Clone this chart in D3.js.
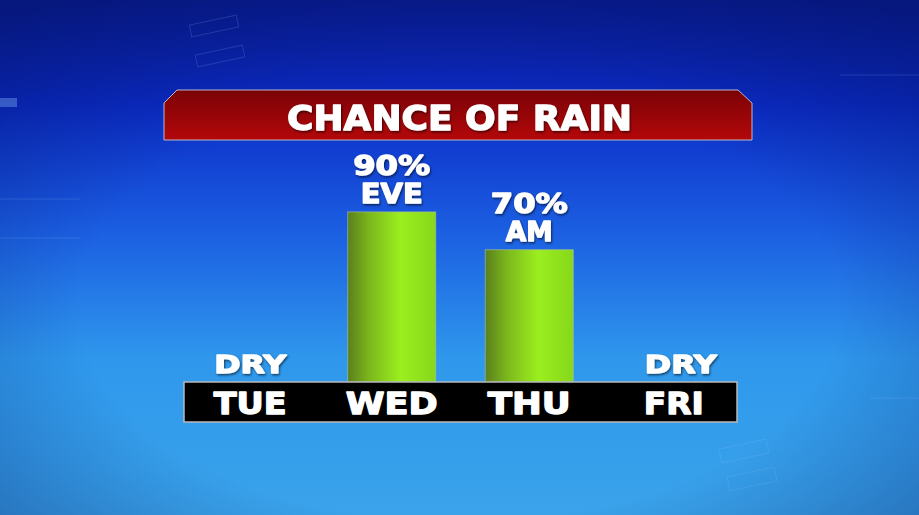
<!DOCTYPE html>
<html>
<head>
<meta charset="utf-8">
<script src="https://cdn.jsdelivr.net/npm/d3@7"></script>
<style>
  html, body { margin: 0; padding: 0; background: #0b2fb8; overflow: hidden; }
  text { font-family: "DejaVu Sans", sans-serif; font-weight: bold; fill: #fff;
         stroke: #fff; stroke-width: 1.3; stroke-linejoin: round; }
</style>
</head>
<body>
<div id="container"></div>
<script>
const width = 919;
const height = 515;

// data
const days = ["TUE", "WED", "THU", "FRI"];
const chance = [0, 90, 70, 0];
const noteTop = ["DRY", "90%", "70%", "DRY"];
const noteBottom = ["", "EVE", "AM", ""];
const title = "CHANCE OF RAIN";

const svg = d3.create("svg")
    .attr("width", width)
    .attr("height", height);

const defs = svg.append("defs");

// background gradient, dark navy on top to light blue below
const bg = defs.append("linearGradient").attr("id", "bg")
    .attr("x1", 0).attr("y1", 0).attr("x2", 0).attr("y2", 1);
bg.append("stop").attr("offset", "0").attr("stop-color", "#0a1c93");
bg.append("stop").attr("offset", "0.2").attr("stop-color", "#0b2bc6");
bg.append("stop").attr("offset", "0.45").attr("stop-color", "#1b5fe2");
bg.append("stop").attr("offset", "0.7").attr("stop-color", "#2f98ec");
bg.append("stop").attr("offset", "1").attr("stop-color", "#3aa3ea");

const vign = defs.append("radialGradient").attr("id", "vign")
    .attr("cx", 0.5).attr("cy", 0.6).attr("r", 0.75);
vign.append("stop").attr("offset", "0.55").attr("stop-color", "#001060").attr("stop-opacity", 0);
vign.append("stop").attr("offset", "1").attr("stop-color", "#001060").attr("stop-opacity", 0.45);

const banner = defs.append("linearGradient").attr("id", "banner")
    .attr("x1", 0).attr("y1", 0).attr("x2", 0).attr("y2", 1);
banner.append("stop").attr("offset", "0").attr("stop-color", "#7a0206");
banner.append("stop").attr("offset", "1").attr("stop-color", "#b4080a");

const green = defs.append("linearGradient").attr("id", "green")
    .attr("x1", 0).attr("y1", 0).attr("x2", 1).attr("y2", 0);
green.append("stop").attr("offset", "0").attr("stop-color", "#5a7f1e");
green.append("stop").attr("offset", "0.25").attr("stop-color", "#7cb81c");
green.append("stop").attr("offset", "0.6").attr("stop-color", "#9bee1e");
green.append("stop").attr("offset", "1").attr("stop-color", "#86d81a");

const shadow = defs.append("filter").attr("id", "shadow")
    .attr("x", -0.1).attr("y", -0.2).attr("width", 1.2).attr("height", 1.5);
shadow.append("feDropShadow")
    .attr("dx", 1).attr("dy", 1.5).attr("stdDeviation", 1)
    .attr("flood-color", "#000").attr("flood-opacity", 0.6);

svg.append("rect").attr("width", width).attr("height", height).attr("fill", "url(#bg)");
svg.append("rect").attr("width", width).attr("height", height).attr("fill", "url(#vign)");

// faint decoration lines in the background
const deco = svg.append("g")
    .attr("fill", "none")
    .attr("stroke", "#8fc4ff")
    .attr("stroke-opacity", 0.18);
deco.append("line").attr("x1", 0).attr("y1", 199).attr("x2", 80).attr("y2", 199);
deco.append("line").attr("x1", 0).attr("y1", 238).attr("x2", 80).attr("y2", 238);
deco.append("line").attr("x1", 870).attr("y1", 398).attr("x2", 919).attr("y2", 398);
deco.append("line").attr("x1", 840).attr("y1", 75).attr("x2", 919).attr("y2", 75);
deco.append("rect").attr("x", 0).attr("y", 98).attr("width", 17).attr("height", 9)
    .attr("fill", "#8fc4ff").attr("fill-opacity", 0.35).attr("stroke", "none");
deco.append("rect").attr("x", 720).attr("y", 444).attr("width", 48).attr("height", 14)
    .attr("transform", "rotate(-12 744 451)");
deco.append("rect").attr("x", 728).attr("y", 472).attr("width", 48).attr("height", 14)
    .attr("transform", "rotate(-12 752 479)");
deco.append("rect").attr("x", 190).attr("y", 20).attr("width", 48).attr("height", 12)
    .attr("transform", "rotate(-12 214 26)");
deco.append("rect").attr("x", 196).attr("y", 50).attr("width", 48).attr("height", 12)
    .attr("transform", "rotate(-12 220 56)");

// scales
const x = d3.scaleBand()
    .domain(days)
    .range([184, 737])
    .paddingInner(0.36)
    .paddingOuter(0.19);

const y = d3.scaleLinear()
    .domain([0, 100])
    .range([382, 193]);

// title banner
svg.append("path")
    .attr("d", "M164,103 L177,90 L738,90 L752,103 L752,140 L164,140 Z")
    .attr("fill", "url(#banner)")
    .attr("stroke", "#b8b8c8")
    .attr("stroke-width", 1);

svg.append("text")
    .attr("x", 459.5)
    .attr("y", 130)
    .attr("text-anchor", "middle")
    .attr("font-size", 34)
    .attr("textLength", 345)
    .attr("lengthAdjust", "spacingAndGlyphs")
    .attr("filter", "url(#shadow)")
    .text(title);

// bars
const rows = days.map((d, i) => ({ day: d, value: chance[i], top: noteTop[i], bottom: noteBottom[i] }));

svg.append("g")
    .selectAll("rect")
    .data(rows.filter(d => d.value > 0))
    .join("rect")
    .attr("x", d => x(d.day))
    .attr("y", d => y(d.value))
    .attr("width", x.bandwidth())
    .attr("height", d => y(0) - y(d.value))
    .attr("fill", "url(#green)")
    .attr("stroke", "#b0c0a0")
    .attr("stroke-opacity", 0.6)
    .attr("stroke-width", 1);

// labels above the bars
const notes = svg.append("g")
    .attr("text-anchor", "middle")
    .attr("filter", "url(#shadow)");

notes.selectAll("text.top")
    .data(rows)
    .join("text")
    .attr("class", "top")
    .attr("x", d => x(d.day) + x.bandwidth() / 2 + (d.value > 0 ? 0 : (d.day === "FRI" ? 14 : -4)))
    .attr("y", d => d.value > 0 ? y(d.value) - 37 : 373)
    .attr("font-size", d => d.value > 0 ? 27 : 25)
    .attr("textLength", d => d.value > 0 ? 77 : 72)
    .attr("lengthAdjust", "spacingAndGlyphs")
    .text(d => d.top);

const bottomWidths = { EVE: 62, AM: 47 };

notes.selectAll("text.bottom")
    .data(rows.filter(d => d.bottom))
    .join("text")
    .attr("class", "bottom")
    .attr("x", d => x(d.day) + x.bandwidth() / 2)
    .attr("y", d => y(d.value) - 9)
    .attr("font-size", 27)
    .attr("textLength", d => bottomWidths[d.bottom])
    .attr("lengthAdjust", "spacingAndGlyphs")
    .text(d => d.bottom);

// day bar along the bottom
svg.append("rect")
    .attr("x", 184)
    .attr("y", 382)
    .attr("width", 553)
    .attr("height", 40)
    .attr("fill", "#000")
    .attr("stroke", "#b8b8b8")
    .attr("stroke-width", 1.5);

const dayWidths = { TUE: 73, WED: 92, THU: 83, FRI: 60 };
const dayShift = { TUE: -4, WED: 0, THU: 0, FRI: 7 };

svg.append("g")
    .attr("text-anchor", "middle")
    .selectAll("text")
    .data(days)
    .join("text")
    .attr("x", d => x(d) + x.bandwidth() / 2 + dayShift[d])
    .attr("y", 414)
    .attr("font-size", 30)
    .attr("textLength", d => dayWidths[d])
    .attr("lengthAdjust", "spacingAndGlyphs")
    .text(d => d);

container.append(svg.node());
</script>
</body>
</html>
